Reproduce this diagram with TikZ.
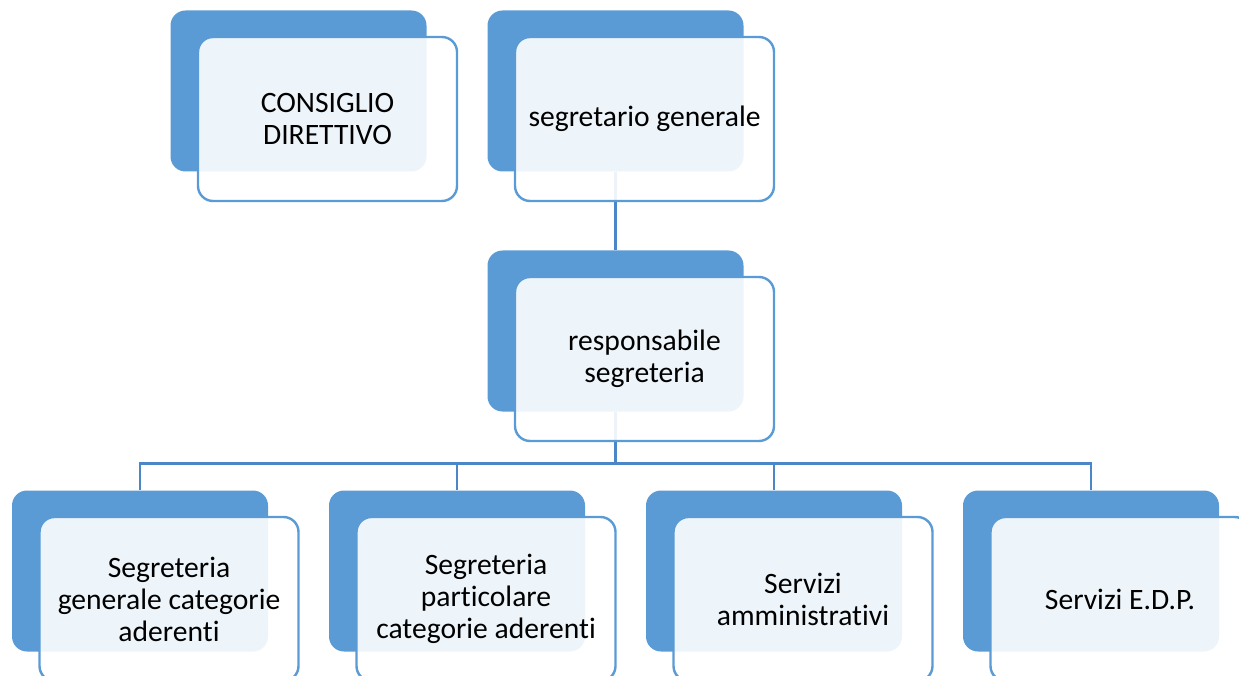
\documentclass[tikz,border=0pt]{standalone}
\usepackage{fontspec}
\setmainfont[RawFeature=-liga]{Carlito}
\definecolor{accent}{HTML}{5B9BD5}
\definecolor{conn}{HTML}{4A86C8}
\begin{document}
\begin{tikzpicture}[x=1pt,y=-1pt,
  back/.style={fill=accent, rounded corners=15pt, minimum width=256pt, minimum height=161pt, inner sep=0pt, anchor=center},
  front/.style={draw=accent, line width=2.4pt, fill=white, fill opacity=0.9, text opacity=1, rounded corners=15pt, minimum width=259pt, minimum height=164pt, inner sep=0pt, anchor=center, align=center, font=\fontsize{29.6}{32}\selectfont},
  link/.style={draw=conn, line width=2.5pt}]
\useasboundingbox (0,0) rectangle (1239,676);
% back shapes
\node[back] (cdb) at (298.5,91) {};
\node[back] (sgb) at (615.5,91) {};
\node[back] (rsb) at (615.5,331) {};
\node[back] (b1b) at (140,571) {};
\node[back] (b2b) at (457,571) {};
\node[back] (b3b) at (774,571) {};
\node[back] (b4b) at (1091,571) {};
% connectors
\draw[link] (sgb.south) -- (rsb.north);
\coordinate (bus) at (615.5,463.5);
\draw[link] (rsb.south) -- (bus);
\draw[link] (bus) -| (b1b.north);
\draw[link] (bus) -| (b2b.north);
\draw[link] (bus) -| (b3b.north);
\draw[link] (bus) -| (b4b.north);
% front shapes
\node[front] (cd) at (327.5,119) {CONSIGLIO\\DIRETTIVO};
\node[front] (sg) at (644.5,119) {segretario generale};
\node[front] (rs) at (644.5,359) {responsabile\\segreteria};
\node[front] (b1) at (169,599) {Segreteria\\generale categorie\\aderenti};
\node[front] (b2) at (486,599) {Segreteria\\particolare\\categorie aderenti};
\node[front] (b3) at (803,599) {Servizi\\amministrativi};
\node[front] (b4) at (1120,599) {Servizi E.D.P.};
\end{tikzpicture}
\end{document}
